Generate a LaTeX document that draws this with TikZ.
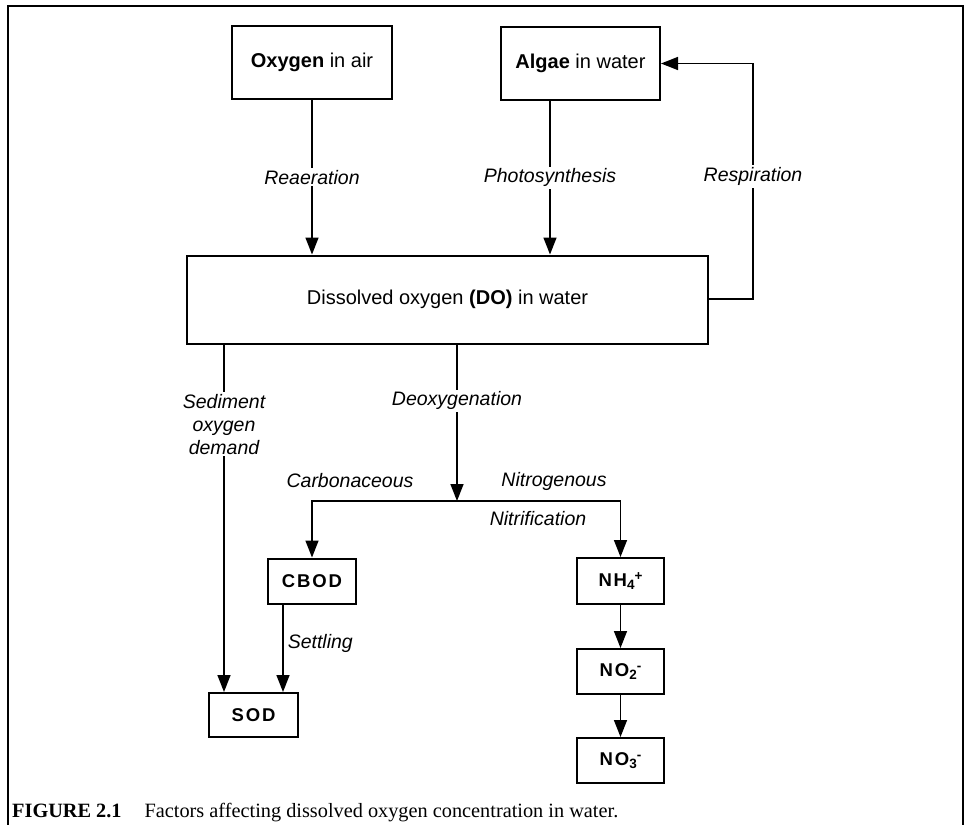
\documentclass[tikz,border=0pt]{standalone}
\usepackage{fontspec}
\setmainfont{Liberation Serif}
\setsansfont{Liberation Sans}
\newfontfamily\spacedsans[LetterSpace=10]{Liberation Sans}
\usetikzlibrary{arrows.meta}
\newcommand\chsub[1]{\raisebox{-2.5pt}{\fontsize{13.5}{13.5}\selectfont #1}}
\newcommand\chsup[1]{\raisebox{6.5pt}{\fontsize{13.5}{13.5}\selectfont #1}}
\tikzset{
  box/.style={draw, rectangle, line width=2pt, inner sep=0pt,
    font=\sffamily\fontsize{20}{24}\selectfont},
  chem/.style={draw, rectangle, line width=2pt, inner sep=0pt,
    minimum width=87pt, minimum height=45pt,
    font=\spacedsans\bfseries\fontsize{18.5}{22}\selectfont},
  arr/.style={-{Triangle[length=17pt,width=13pt]}, line width=1.5pt},
  lab/.style={font=\sffamily\itshape\fontsize{19.5}{23}\selectfont, fill=white, inner sep=2pt},
  freelab/.style={font=\sffamily\itshape\fontsize{19.5}{23}\selectfont, inner sep=1pt},
}
\begin{document}
\begin{tikzpicture}[x=1pt, y=-1pt]
\useasboundingbox (0,0) rectangle (970,825);
% outer frame (open at bottom)
\draw[line width=2.6pt] (8,825) -- (8,6) -- (963,6) -- (963,825);

% boxes
\node[box, minimum width=160pt, minimum height=73pt] (oxy) at (312,62.5) {\textbf{Oxygen} in air};
\node[box, minimum width=159pt, minimum height=73pt] (alg) at (580.5,63.5) {\textbf{Algae} in water};
\node[box, minimum width=521pt, minimum height=88pt] (do) at (447.5,299.5) {Dissolved oxygen \textbf{(DO)} in water};
\node[chem, minimum width=88pt] (cbod) at (312,581) {CBOD};
\node[chem, minimum width=89pt, minimum height=44pt] (sod) at (253.5,715) {SOD};
\node[chem, minimum height=46pt] (nh4) at (620.5,581) {NH\chsub{4}\chsup{+}};
\node[chem] (no2) at (620.5,671.5) {NO\chsub{2}\chsup{-}};
\node[chem] (no3) at (620.5,760.5) {NO\chsub{3}\chsup{-}};

% top connectors
\draw[arr] (oxy.south) -- node[lab, pos=0.5] {Reaeration} (oxy.south |- do.north);
\draw[arr] ([xshift=-30.5pt]alg.south) -- node[lab, pos=0.5] {Photosynthesis} ([xshift=-30.5pt]alg.south |- do.north);
\coordinate (rc) at (753,299);
\draw[arr] (do.east |- rc) -- (rc) -- node[lab, pos=0.52] {Respiration} (rc |- alg.east) -- (alg.east);

% sediment oxygen demand
\draw[arr] ([xshift=-29.5pt]sod.north |- do.south) -- node[lab, pos=0.229, align=center] {Sediment\\oxygen\\demand} ([xshift=-29.5pt]sod.north);

% deoxygenation and branch
\coordinate (br) at (457,501);
\draw[arr] (br |- do.south) -- node[lab, pos=0.36] {Deoxygenation} (br);
\draw[arr] (br) -| (cbod.north);
\draw[arr] (br) -| (nh4.north);
\node[freelab] (carb) at (350,481) {Carbonaceous};
\node[freelab] (nitg) at (554,481) {Nitrogenous};
\node[freelab] (nitr) at (538,519) {Nitrification};

% settling
\draw[arr] ([xshift=-29pt]cbod.south) -- node[freelab, anchor=west, pos=0.44, xshift=3pt] {Settling} ([xshift=-29pt]cbod.south |- sod.north);

% nitrification chain
\draw[arr] (nh4) -- (no2);
\draw[arr] (no2) -- (no3);

% caption
\node[anchor=base west, inner sep=0pt, font=\rmfamily\fontsize{20.3}{24}\selectfont] (cap) at (12,817)
  {\textbf{FIGURE 2.1}\hspace{23pt}Factors affecting dissolved oxygen concentration in water.};
\end{tikzpicture}
\end{document}
